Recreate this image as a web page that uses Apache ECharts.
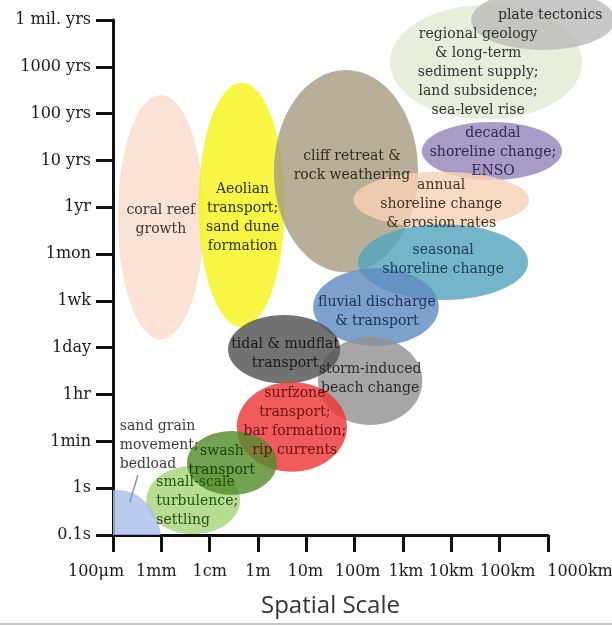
<!DOCTYPE html>
<html><head><meta charset="utf-8">
<script src="https://cdn.jsdelivr.net/npm/echarts@6/dist/echarts.min.js"></script>
<style>html,body{margin:0;padding:0;background:#fff}#c{width:612px;height:626px}</style>
</head><body><div id="c"></div>
<script>
// ---- data ----
const xLabels = ['100μm','1mm','1cm','1m','10m','100m','1km','10km','100km','1000km'];
const yLabels = ['0.1s','1s','1min','1hr','1day','1wk','1mon','1yr','10 yrs','100 yrs','1000 yrs','1 mil. yrs'];
const processes = [
  'coral reef\ngrowth',
  'Aeolian\ntransport;\nsand dune\nformation',
  'cliff retreat &\nrock weathering',
  'regional geology\n& long-term\nsediment supply;\nland subsidence;\nsea-level rise',
  'plate tectonics',
  'decadal\nshoreline change;\nENSO',
  'annual\nshoreline change\n& erosion rates',
  'seasonal\nshoreline change',
  'fluvial discharge\n& transport',
  'storm-induced\nbeach change',
  'tidal & mudflat\ntransport',
  'surfzone\ntransport;\nbar formation;\nrip currents',
  'small-scale\nturbulence;\nsettling',
  'swash\ntransport',
  'sand grain\nmovement;\nbedload'
];
// centre of each process on the spatial (x) and temporal (y) scale, in axis steps
const spaceCenter = [0.99, 2.66, 4.82, 7.72, 8.90, 7.84, 6.79, 6.83, 5.44, 5.32, 3.54, 3.70, 1.66, 2.46, 0.10];
const timeCenter  = [6.79, 7.05, 7.77, 10.10, 11.00, 8.20, 7.16, 5.83, 4.87, 3.29, 3.97, 2.31, 0.75, 1.54, -0.11];
// half extent of each process, in axis steps
const spaceHalf   = [0.89, 0.89, 1.49, 1.99, 1.49, 1.45, 1.82, 1.76, 1.30, 1.08, 1.16, 1.14, 0.97, 0.93, 0.89];
const timeHalf    = [2.61, 2.61, 2.16, 1.22, 0.64, 0.62, 0.60, 0.81, 0.83, 0.94, 0.73, 0.96, 0.73, 0.68, 1.07];

// ---- styles ----
const colors = ['#fae2d5','#f8f645','#b7af97','#e8eedc','#c6c9c6','#a89bc6','#f9dac4','#74b5c9',
                '#7ea0cc','#a6a6a6','#727272','#f05b5e','#b6dd91','#74a052','#b9cbee'];
const textColors = ['#3e3434','#33330a','#332e1a','#333333','#2c2c2c','#33284e','#433322','#1a3f4e',
                    '#1d3254','#2c2c2c','#1a1a1a','#701010','#24520e','#1a440c','#3a3a3a'];
// label offset in px from the ellipse centre, and alignment
const labelOffset = [[0,3],[1,13],[6,-5],[-8,10],[7,-5],[1,1],[0,5],[0,-2],[1,5],[0,-2],[1,5],[3,-5],[-37,1],[-10,-2],[2,-95]];
const labelAlign = ['center','center','center','center','center','center','center','center','center','center','center','center','left','center','left'];
const xLabelShift = [-17,-5,0,0,-1,3,3,0,8,32];
const ALPHA = 0.82;
function tint(hex, a){
  const r=parseInt(hex.slice(1,3),16), g=parseInt(hex.slice(3,5),16), b=parseInt(hex.slice(5,7),16);
  const f=v=>Math.max(0,Math.min(255,Math.round(255-(255-v)/a)));
  return 'rgba('+f(r)+','+f(g)+','+f(b)+','+a+')';
}
const seriesData = processes.map((p,i)=>[spaceCenter[i], timeCenter[i], spaceHalf[i], timeHalf[i]]);
const FONT = '"DejaVu Serif", "Liberation Serif", serif';

const chart = echarts.init(document.getElementById('c'), null, {renderer:'canvas'});
const rich = {};
xLabelShift.forEach((s,i)=>{ rich['s'+i] = {padding: s>=0 ? [0,0,0,2*s] : [0,-2*s,0,0], fontFamily: FONT, fontSize: 16, color:'#1a1a1a'}; });

chart.setOption({
  animation:false,
  grid:{left:113, right:64, top:20, bottom:91, containLabel:false, outerBoundsMode:'none'},
  xAxis:{
    type:'value', min:0, max:9, interval:1,
    name:'Spatial Scale', nameLocation:'middle', nameGap:59,
    nameTextStyle:{fontFamily:'"Open Sans", sans-serif', fontSize:24, color:'#333'},
    axisLine:{show:true, lineStyle:{color:'#111', width:3}},
    axisTick:{show:true, length:17, lineStyle:{color:'#111', width:3}},
    axisLabel:{margin:29, formatter:(v)=>{const i=Math.round(v); return '{s'+i+'|'+xLabels[i]+'}';}, rich:rich},
    splitLine:{show:false}
  },
  yAxis:{
    type:'value', min:0, max:11, interval:1,
    axisLine:{show:true, lineStyle:{color:'#111', width:3}},
    axisTick:{show:true, length:17, lineStyle:{color:'#111', width:3}},
    axisLabel:{margin:22, fontFamily:FONT, fontSize:16, color:'#1a1a1a', formatter:(v)=>yLabels[Math.round(v)]},
    splitLine:{show:false}
  },
  graphic:[{type:'line', shape:{x1:0,y1:624,x2:612,y2:624}, style:{stroke:'#c8c8c8', lineWidth:2}, silent:true}],
  series:[
    {
      type:'custom', name:'processes', data:seriesData, z:2,
      renderItem:(params, api)=>{
        const i = params.dataIndex;
        const c = api.coord([api.value(0), api.value(1)]);
        const s = api.size([api.value(2), api.value(3)]);
        const el = {type:'ellipse', shape:{cx:c[0], cy:c[1], rx:s[0], ry:s[1]}, style:{fill:tint(colors[i], ALPHA)}};
        if (i === processes.length-1) {
          const cs = params.coordSys;
          el.clipPath = {type:'rect', shape:{x:cs.x, y:cs.y, width:cs.width, height:cs.height}};
        }
        return el;
      }
    },
    {
      type:'custom', name:'labels', data:seriesData, z:5, silent:true,
      renderItem:(params, api)=>{
        const i = params.dataIndex;
        const c = api.coord([api.value(0), api.value(1)]);
        const o = labelOffset[i];
        const children = [{
          type:'text', x:c[0]+o[0], y:c[1]+o[1],
          style:{text:processes[i], fill:textColors[i], font:'14px '+FONT, align:labelAlign[i], verticalAlign:'middle', lineHeight:19}
        }];
        if (i === processes.length-1) {
          children.push({type:'line', shape:{x1:c[0]+20, y1:c[1]-65, x2:c[0]+12, y2:c[1]-38}, style:{stroke:'#7f93b8', lineWidth:1.5}});
        }
        return {type:'group', children};
      }
    }
  ]
});
</script></body></html>
